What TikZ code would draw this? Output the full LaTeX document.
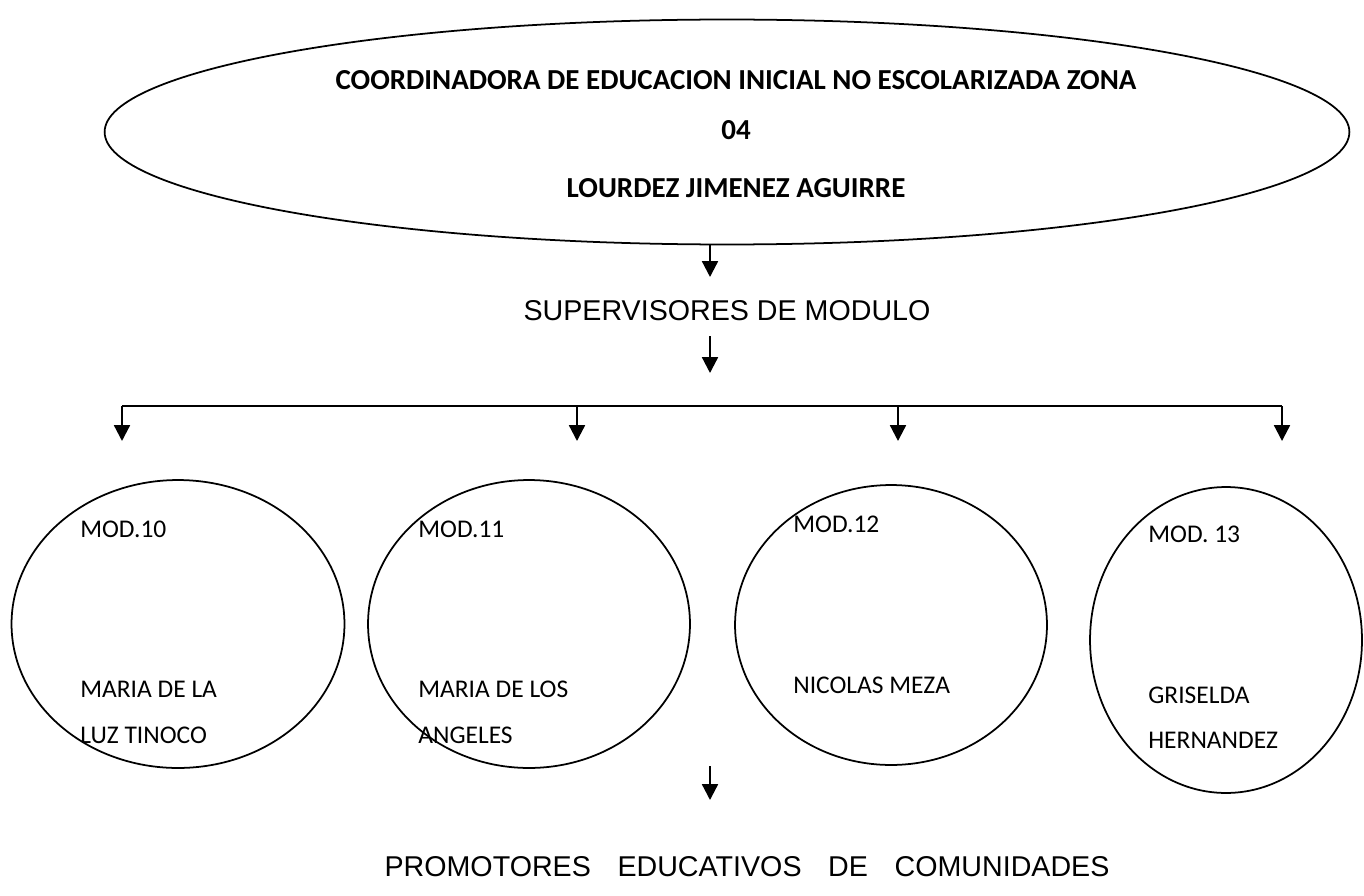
\documentclass[tikz,border=0pt]{standalone}
\usepackage{fontspec}
\setmainfont{Carlito}
\newfontfamily\arialfont{Liberation Sans}
\usetikzlibrary{shapes.geometric,arrows.meta}

\tikzset{
  oval/.style={ellipse,draw,line width=1pt,inner sep=0pt},
  arr/.style={line width=1.3pt,-{Triangle[width=9pt,length=9pt]}},
  bar/.style={line width=1.3pt},
  title/.style={inner sep=0pt,font=\bfseries\fontsize{16.5}{20}\selectfont},
  level/.style={inner sep=0pt,font=\arialfont\fontsize{16.3}{20}\selectfont},
  modtext/.style={anchor=west,inner sep=0pt,font=\fontsize{14.5}{17}\selectfont}
}

\begin{document}
\begin{tikzpicture}[x=0.02cm,y=-0.02cm]
            \useasboundingbox (0,0) rectangle (1364,895);

            % coordinadora
            \node (coord) at (727,132) [oval,minimum width=24.9cm,minimum height=4.5cm] {};
            \node (t1) at (736,80) [title] {COORDINADORA DE EDUCACION INICIAL NO ESCOLARIZADA ZONA};
            \node (t2) at (736,130) [title] {04};
            \node (t3) at (736,188) [title] {LOURDEZ JIMENEZ AGUIRRE};

            % supervisores
            \coordinate (a1) at (710,277);
            \node (sup) at (727,311) [level] {SUPERVISORES DE MODULO};
            \coordinate (a2s) at (710,336);
            \coordinate (a2) at (710,373);

            \draw[arr] (coord.south -| a1) -- (a1);
            \draw[arr] (a2s) -- (a2);

            % reparto a los modulos
            \foreach \i/\x in {1/122,2/577,3/898,4/1282}{
                \coordinate (top\i) at (\x,406);
                \coordinate (tip\i) at (\x,441);
            }
            \draw[bar] (top1) -- (top4);
            \foreach \i in {1,...,4} \draw[arr] (top\i) -- (tip\i);

            % modulos
            \node (m10) at (178,624) [oval,minimum width=6.66cm,minimum height=5.76cm] {};
            \node (m11) at (529,624) [oval,minimum width=6.44cm,minimum height=5.76cm] {};
            \node (m12) at (891,625) [oval,minimum width=6.24cm,minimum height=5.6cm] {};
            \node (m13) at (1226,640) [oval,minimum width=5.44cm,minimum height=6.12cm] {};

            \node (m10a) at (80,529) [modtext] {MOD.10};
            \node (m10b) at (80,689) [modtext] {MARIA DE LA};
            \node (m10c) at (80,735) [modtext] {LUZ TINOCO};
            \node (m11a) at (418,529) [modtext] {MOD.11};
            \node (m11b) at (418,689) [modtext] {MARIA DE LOS};
            \node (m11c) at (418,735) [modtext] {ANGELES};
            \node (m12a) at (793,524) [modtext] {MOD.12};
            \node (m12b) at (793,685) [modtext] {NICOLAS MEZA};
            \node (m13a) at (1148,534) [modtext] {MOD. 13};
            \node (m13b) at (1148,695) [modtext] {GRISELDA};
            \node (m13c) at (1148,740) [modtext] {HERNANDEZ};

            % promotores
            \coordinate (a3s) at (710,766);
            \coordinate (a3) at (710,800);
            \node (prom) at (747,867) [level] {\makebox[14.5cm][s]{PROMOTORES EDUCATIVOS DE COMUNIDADES}};

            \draw[arr] (a3s) -- (a3);

        \end{tikzpicture}
\end{document}
